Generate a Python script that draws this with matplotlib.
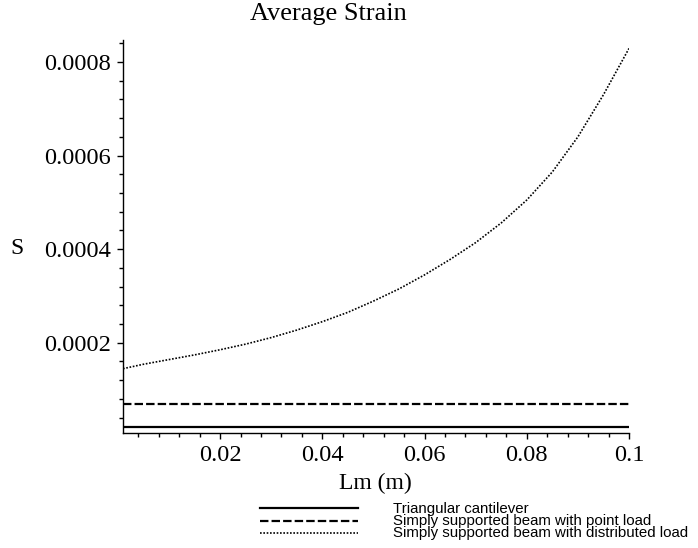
import numpy as np
import matplotlib
matplotlib.use('Agg')
import matplotlib.pyplot as plt
from matplotlib.lines import Line2D
from matplotlib.ticker import MultipleLocator

# values (Lm in m, average strain)
Lm = [0.001, 0.005, 0.01, 0.015, 0.02, 0.025, 0.03, 0.035, 0.04, 0.045, 0.05,
      0.055, 0.06, 0.065, 0.07, 0.075, 0.08, 0.085, 0.09, 0.095, 0.1]
S_distributed = [1.445e-4, 1.54e-4, 1.64e-4, 1.74e-4, 1.85e-4, 1.97e-4, 2.11e-4,
                 2.27e-4, 2.45e-4, 2.65e-4, 2.89e-4, 3.15e-4, 3.45e-4, 3.78e-4,
                 4.14e-4, 4.56e-4, 5.05e-4, 5.65e-4, 6.40e-4, 7.30e-4, 8.29e-4]
Lm_ends = [0.001, 0.1]
S_triangular = [2.05e-5, 2.05e-5]
S_point = [7.0e-5, 7.0e-5]

labels = ['Triangular cantilever',
          'Simply supported beam with point load',
          'Simply supported beam with distributed load']

W, H = 698, 548
serif = 'Liberation Serif'
sans = 'Liberation Sans'

fig = plt.figure(figsize=(W/100, H/100), dpi=100)
ax = fig.add_axes([123/W, 1-432.7/H, (629-123)/W, (432.7-40)/H])

solid = dict(color='black', lw=1.6, linestyle='-')
dashed = dict(color='black', lw=1.6, linestyle=(0, (3.8, 1.4)))
dotted = dict(color='black', lw=1.2, linestyle=(0, (1, 1.0)))

ax.plot(Lm_ends, S_triangular, **solid)
ax.plot(Lm_ends, S_point, **dashed)
ax.plot(Lm, S_distributed, **dotted)

ax.set_xlim(0.001, 0.1)
ax.set_ylim(0.0000077, 0.000847)

for side in ['top', 'right']:
    ax.spines[side].set_visible(False)
for side in ['left', 'bottom']:
    ax.spines[side].set_linewidth(1.0)

ax.set_xticks([0.02, 0.04, 0.06, 0.08, 0.1])
ax.set_xticklabels(['0.02', '0.04', '0.06', '0.08', '0.1'])
ax.set_yticks([0.0002, 0.0004, 0.0006, 0.0008])
ax.set_yticklabels(['0.0002', '0.0004', '0.0006', '0.0008'])
ax.xaxis.set_minor_locator(MultipleLocator(0.004))
ax.yaxis.set_minor_locator(MultipleLocator(0.00004))
ax.tick_params(which='major', direction='out', length=4.5, width=1, pad=4)
ax.tick_params(which='minor', direction='out', length=3, width=1)
for lab in ax.get_xticklabels() + ax.get_yticklabels():
    lab.set_fontfamily(serif)
    lab.set_fontsize(17.6)

fig.text(328/W, 1-14/H, 'Average Strain', family=serif, fontsize=19,
         ha='center', va='center')
fig.text(17/W, 1-248/H, 'S', family=serif, fontsize=17, ha='center', va='center')
fig.text(375/W, 1-483/H, 'Lm (m)', family=serif, fontsize=17, ha='center', va='center')

# legend below the axis
styles = [solid, dashed, dotted]
line_y = [508.3, 521, 533.3]
text_y = [512.5, 525, 537.5]
for st, ly, ty, lab in zip(styles, line_y, text_y, labels):
    fig.add_artist(Line2D([260/W, 358/W], [1-ly/H, 1-ly/H],
                          transform=fig.transFigure, **st))
    fig.text(393/W, 1-ty/H, lab, family=sans, fontsize=10.8, va='baseline', ha='left')

fig.savefig('out.png', dpi=100)
